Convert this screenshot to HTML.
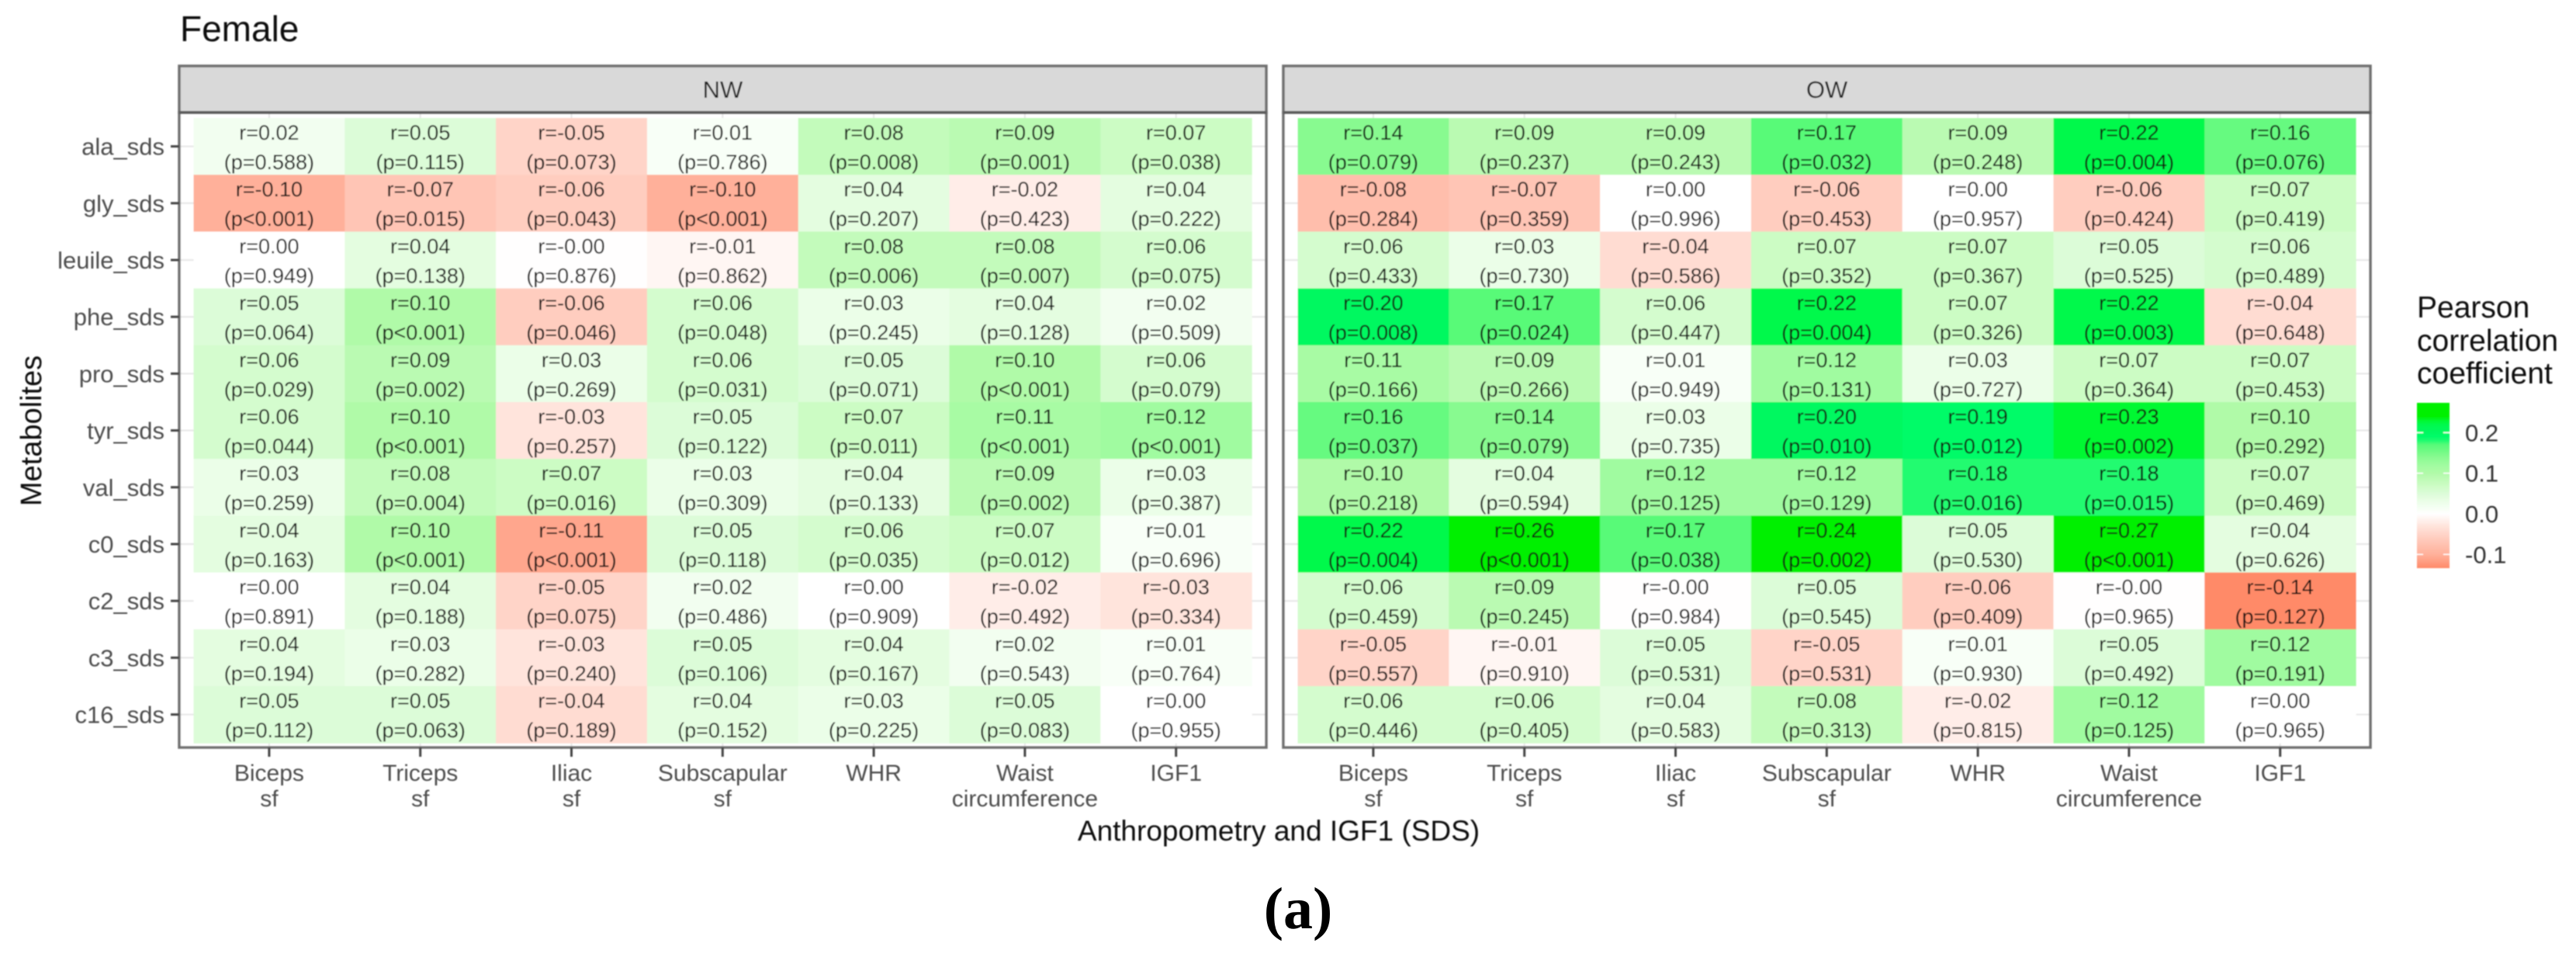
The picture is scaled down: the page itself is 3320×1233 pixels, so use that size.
<!DOCTYPE html>
<html lang="en">
<head>
<meta charset="utf-8">
<title>Female metabolite correlations</title>
<style>
html,body{margin:0;padding:0;background:#fff;}
svg{display:block;}
text{font-family:"Liberation Sans",sans-serif;}
</style>
</head>
<body>
<svg id="chart" xmlns="http://www.w3.org/2000/svg" width="3320" height="1233" viewBox="0 0 3320 1233">
  <defs>
    <filter id="soft" x="-2%" y="-2%" width="104%" height="104%"><feGaussianBlur stdDeviation="0.9"/></filter>
    <linearGradient id="legend-gradient" x1="0" y1="0" x2="0" y2="1"></linearGradient>
  </defs>
  <rect width="3320" height="1233" fill="#fff"/>
  <g id="plot" filter="url(#soft)">
    <text x="232" y="53" font-size="46" fill="#111">Female</text>
    <text x="1648" y="1083" font-size="37" text-anchor="middle" fill="#111">Anthropometry and IGF1 (SDS)</text>
    <text transform="translate(53,555) rotate(-90)" font-size="38" text-anchor="middle" fill="#111">Metabolites</text>
    <text x="3115" y="409" font-size="39" fill="#111">Pearson</text>
    <text x="3115" y="452" font-size="39" fill="#111">correlation</text>
    <text x="3115" y="494" font-size="39" fill="#111">coefficient</text>
  </g>
  <text x="1673" y="1196" font-size="76" font-weight="bold" text-anchor="middle" fill="#000" style='font-family:"Liberation Serif",serif'>(a)</text>
</svg>
<script>
const metabolites = ["ala_sds","gly_sds","leuile_sds","phe_sds","pro_sds","tyr_sds","val_sds","c0_sds","c2_sds","c3_sds","c16_sds"];
const measureLine1 = ["Biceps","Triceps","Iliac","Subscapular","WHR","Waist","IGF1"];
const measureLine2 = ["sf","sf","sf","sf","","circumference",""];
const panelNames = ["NW","OW"];
const legendTicks = [0.2,0.1,0.0,-0.1];

const nwR = [
 [0.02,0.05,-0.05,0.01,0.08,0.09,0.07],
 [-0.10,-0.07,-0.06,-0.10,0.04,-0.02,0.04],
 [0.00,0.04,-0.001,-0.01,0.08,0.08,0.06],
 [0.05,0.10,-0.06,0.06,0.03,0.04,0.02],
 [0.06,0.09,0.03,0.06,0.05,0.10,0.06],
 [0.06,0.10,-0.03,0.05,0.07,0.11,0.12],
 [0.03,0.08,0.07,0.03,0.04,0.09,0.03],
 [0.04,0.10,-0.11,0.05,0.06,0.07,0.01],
 [0.00,0.04,-0.05,0.02,0.00,-0.02,-0.03],
 [0.04,0.03,-0.03,0.05,0.04,0.02,0.01],
 [0.05,0.05,-0.04,0.04,0.03,0.05,0.00]
];
const nwP = [
 [0.588,0.115,0.073,0.786,0.008,0.001,0.038],
 [0.0005,0.015,0.043,0.0005,0.207,0.423,0.222],
 [0.949,0.138,0.876,0.862,0.006,0.007,0.075],
 [0.064,0.0005,0.046,0.048,0.245,0.128,0.509],
 [0.029,0.002,0.269,0.031,0.071,0.0005,0.079],
 [0.044,0.0005,0.257,0.122,0.011,0.0005,0.0005],
 [0.259,0.004,0.016,0.309,0.133,0.002,0.387],
 [0.163,0.0005,0.0005,0.118,0.035,0.012,0.696],
 [0.891,0.188,0.075,0.486,0.909,0.492,0.334],
 [0.194,0.282,0.240,0.106,0.167,0.543,0.764],
 [0.112,0.063,0.189,0.152,0.225,0.083,0.955]
];
const owR = [
 [0.14,0.09,0.09,0.17,0.09,0.22,0.16],
 [-0.08,-0.07,0.00,-0.06,0.00,-0.06,0.07],
 [0.06,0.03,-0.04,0.07,0.07,0.05,0.06],
 [0.20,0.17,0.06,0.22,0.07,0.22,-0.04],
 [0.11,0.09,0.01,0.12,0.03,0.07,0.07],
 [0.16,0.14,0.03,0.20,0.19,0.23,0.10],
 [0.10,0.04,0.12,0.12,0.18,0.18,0.07],
 [0.22,0.26,0.17,0.24,0.05,0.27,0.04],
 [0.06,0.09,-0.001,0.05,-0.06,-0.001,-0.14],
 [-0.05,-0.01,0.05,-0.05,0.01,0.05,0.12],
 [0.06,0.06,0.04,0.08,-0.02,0.12,0.00]
];
const owP = [
 [0.079,0.237,0.243,0.032,0.248,0.004,0.076],
 [0.284,0.359,0.996,0.453,0.957,0.424,0.419],
 [0.433,0.730,0.586,0.352,0.367,0.525,0.489],
 [0.008,0.024,0.447,0.004,0.326,0.003,0.648],
 [0.166,0.266,0.949,0.131,0.727,0.364,0.453],
 [0.037,0.079,0.735,0.010,0.012,0.002,0.292],
 [0.218,0.594,0.125,0.129,0.016,0.015,0.469],
 [0.004,0.0005,0.038,0.002,0.530,0.0005,0.626],
 [0.459,0.245,0.984,0.545,0.409,0.965,0.127],
 [0.557,0.910,0.531,0.531,0.930,0.492,0.191],
 [0.446,0.405,0.583,0.313,0.815,0.125,0.965]
];

const panelR = [nwR, owR];
const panelP = [nwP, owP];

/* colour scale */
const scaleStops = [-0.14,-0.11,-0.10,-0.07,-0.05,-0.03,-0.01,0,0.03,0.05,0.07,0.09,0.10,0.12,0.14,0.16,0.17,0.18,0.19,0.20,0.22,0.23,0.24,0.27];
const scaleFills = ["#ff8a68","#ffa68d","#ffb09a","#ffc5b5","#ffd4c8","#ffe4dc","#fff6f3","#ffffff","#ebfee8","#dcfcd8","#ccfcc4","#bafab2","#b0faa8","#a0fba0","#88fa90","#66fa80","#58fa78","#20fb70","#00fb68","#00f861","#00f94c","#00f830","#00f000","#00f000"];

function hexToRgb(h){return [1,3,5].map(i=>parseInt(h.substr(i,2),16));}
function fillFor(v){
  if(v<=scaleStops[0]) return scaleFills[0];
  for(let i=1;i<scaleStops.length;i++){
    if(v<=scaleStops[i]){
      const t=(v-scaleStops[i-1])/(scaleStops[i]-scaleStops[i-1]);
      const a=hexToRgb(scaleFills[i-1]),b=hexToRgb(scaleFills[i]);
      return 'rgb('+a.map((c,k)=>Math.round(c+(b[k]-c)*t)).join(',')+')';
    }
  }
  return scaleFills[scaleFills.length-1];
}

/* axis functions */
const panelLeft = [231,1654];
const panelWidth = 1401;
const panelTop = 145, panelBottom = 963;
const stripTop = 85;
const tileInset = 18.5;
const colW = 194.8;
const rowTop = 152, rowH = 73.2;
function xBand(p,c){return panelLeft[p]+tileInset+c*colW;}
function xCenter(p,c){return xBand(p,c)+colW/2;}
function yBand(r){return rowTop+r*rowH;}
function yCenter(r){return yBand(r)+rowH/2;}
function legendY(v){return 662-v*523;}

const NS='http://www.w3.org/2000/svg';
const plot=document.getElementById('plot');
function make(tag,attrs,parent,txt){
  const el=document.createElementNS(NS,tag);
  for(const k in attrs) el.setAttribute(k,attrs[k]);
  if(txt!==undefined) el.textContent=txt;
  (parent||plot).appendChild(el);
  return el;
}

panelNames.forEach((name,p)=>{
  const group=make('g',{});
  
  

  const bg=make('rect',{x:panelLeft[p],y:panelTop,width:panelWidth,height:panelBottom-panelTop,fill:'#fff'},group);
  
  

  metabolites.forEach((m,r)=>{
    const g=make('line',{x1:panelLeft[p],x2:panelLeft[p]+panelWidth,y1:yCenter(r),y2:yCenter(r),stroke:'#e6e6e6','stroke-width':2},group);
    
    
  });
  measureLine1.forEach((m,c)=>{
    const g=make('line',{x1:xCenter(p,c),x2:xCenter(p,c),y1:panelTop,y2:panelBottom,stroke:'#e6e6e6','stroke-width':2},group);
    
    
  });

  metabolites.forEach((m,r)=>{
    measureLine1.forEach((cat,c)=>{
      const val=panelR[p][r][c];
      const tile=make('rect',{x:xBand(p,c),y:yBand(r),width:colW+0.6,height:rowH+0.6,fill:fillFor(val)},group);
      
      
    });
  });
  metabolites.forEach((m,r)=>{
    measureLine1.forEach((cat,c)=>{
      const val=panelR[p][r][c];
      const pv=panelP[p][r][c];
      const rText=make('text',{x:xCenter(p,c),y:yBand(r)+28,'font-size':27,'text-anchor':'middle',fill:'#0a0a0a'},group,'r='+val.toFixed(2));
      
      
      const pLabel=pv<0.001?'(p<0.001)':'(p='+pv.toFixed(3)+')';
      const pText=make('text',{x:xCenter(p,c),y:yBand(r)+66,'font-size':27,'text-anchor':'middle',fill:'#0a0a0a'},group,pLabel);
      
      
    });
  });

  const border=make('rect',{x:panelLeft[p],y:panelTop,width:panelWidth,height:panelBottom-panelTop,fill:'none',stroke:'#707070','stroke-width':3.5},group);
  
  

  const strip=make('rect',{x:panelLeft[p],y:stripTop,width:panelWidth,height:panelTop-stripTop,fill:'#d9d9d9',stroke:'#707070','stroke-width':3.5},group);
  
  

  const stripRule=make('line',{x1:panelLeft[p],x2:panelLeft[p]+panelWidth,y1:panelTop,y2:panelTop,stroke:'#5c5c5c','stroke-width':4},group);
  
  

  const stripLabel=make('text',{x:panelLeft[p]+panelWidth/2,y:126,'font-size':31,'text-anchor':'middle',fill:'#1a1a1a'},group,name);
  
  

  measureLine1.forEach((cat,c)=>{
    const tick=make('line',{x1:xCenter(p,c),x2:xCenter(p,c),y1:panelBottom,y2:975,stroke:'#444','stroke-width':3},group);
    
    
    const l1=make('text',{x:xCenter(p,c),y:1006,'font-size':30,'text-anchor':'middle',fill:'#4d4d4d'},group,cat);
    
    
    if(measureLine2[c]){
      const l2=make('text',{x:xCenter(p,c),y:1039,'font-size':30,'text-anchor':'middle',fill:'#4d4d4d'},group,measureLine2[c]);
      
      
    }
  });
});

metabolites.forEach((m,r)=>{
  const tick=make('line',{x1:220,x2:231,y1:yCenter(r),y2:yCenter(r),stroke:'#444','stroke-width':3});
  
  
  const lab=make('text',{x:212,y:yCenter(r)+11,'font-size':31,'text-anchor':'end',fill:'#4d4d4d'},plot,m);
  
  
});

/* legend */
const legendTop=519, legendBottom=732;
const grad=document.getElementById('legend-gradient');
scaleStops.forEach((s,i)=>{
  const st=document.createElementNS(NS,'stop');
  const off=(legendY(s)-legendTop)/(legendBottom-legendTop);
  st.setAttribute('offset',Math.min(1,Math.max(0,off)));
  st.setAttribute('stop-color',scaleFills[i]);
  grad.insertBefore(st,grad.firstChild);
});
const bar=make('rect',{x:3115,y:legendTop,width:42,height:legendBottom-legendTop,fill:'url(#legend-gradient)'});


legendTicks.forEach(v=>{
  const a=make('line',{x1:3115,x2:3123,y1:legendY(v),y2:legendY(v),stroke:'#fff','stroke-width':1.5});
  
  
  const b=make('line',{x1:3149,x2:3157,y1:legendY(v),y2:legendY(v),stroke:'#fff','stroke-width':1.5});
  
  
  const t=make('text',{x:3177,y:legendY(v)+11,'font-size':31,fill:'#333'},plot,v.toFixed(1));
  
  
});
</script>
</body>
</html>
